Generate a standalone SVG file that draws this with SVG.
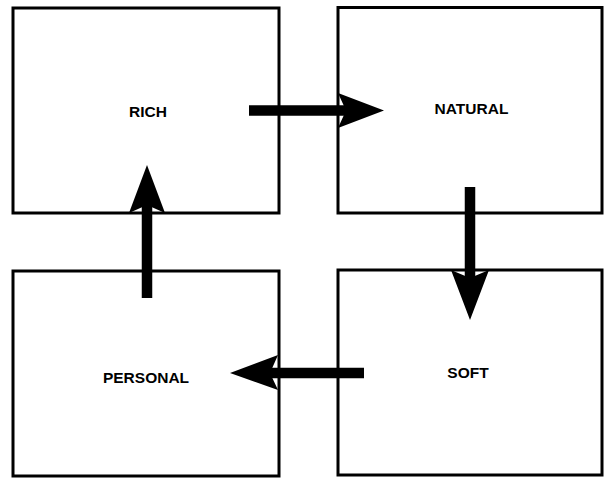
<svg xmlns="http://www.w3.org/2000/svg" width="607" height="478" viewBox="0 0 607 478">
<style>
.box{fill:#fff;stroke:#000;stroke-width:3}
.lbl{font-family:"Liberation Sans",Arial,Helvetica,sans-serif;font-weight:bold;font-size:15.5px;fill:#000;text-anchor:middle}
.shaft{stroke:#000;stroke-width:10.5;fill:none}
.head{fill:#000;stroke:none}
</style>
<rect width="607" height="478" fill="#fff"/>
<g id="rich"><rect class="box" x="13" y="8" width="266" height="205"/><text class="lbl" x="148" y="117">RICH</text></g>
<g id="natural"><rect class="box" x="338" y="7.5" width="264" height="205.5"/><text class="lbl" x="471.5" y="114">NATURAL</text></g>
<g id="personal"><rect class="box" x="13" y="271" width="266" height="205"/><text class="lbl" x="146" y="383">PERSONAL</text></g>
<g id="soft"><rect class="box" x="338" y="270" width="264" height="205"/><text class="lbl" x="468" y="378">SOFT</text></g>
<g id="connectors">
<line class="shaft" x1="249" y1="110.5" x2="350" y2="110.5"/>
<polygon class="head" points="384,110.5 338,93 346,110.5 338,128"/>
<line class="shaft" x1="470" y1="187" x2="470" y2="282"/>
<polygon class="head" points="470,320 451,270 470,278 489,270"/>
<line class="shaft" x1="364" y1="373" x2="265" y2="373"/>
<polygon class="head" points="230,373 278,355 270,373 278,390"/>
<line class="shaft" x1="147" y1="298" x2="147" y2="200"/>
<polygon class="head" points="147,165 165,213 147,205 129,213"/>
</g>
</svg>
